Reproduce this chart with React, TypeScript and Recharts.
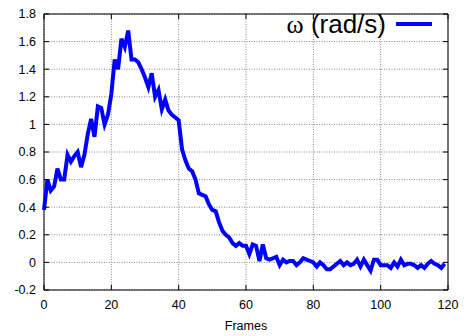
import React from 'react';
import { LineChart, Line, XAxis, YAxis, CartesianGrid, Legend, ReferenceArea } from 'recharts';

// angular velocity per frame
const omega = [
  0.38, 0.6, 0.52, 0.55, 0.68, 0.6, 0.6, 0.78, 0.73, 0.77,
  0.8, 0.69, 0.78, 0.93, 1.04, 0.91, 1.13, 1.12, 1.0, 1.07,
  1.22, 1.47, 1.4, 1.62, 1.56, 1.68, 1.47, 1.47, 1.45, 1.4,
  1.34, 1.27, 1.37, 1.2, 1.25, 1.11, 1.18, 1.1, 1.07, 1.05,
  1.03, 0.82, 0.74, 0.68, 0.66, 0.6, 0.5, 0.49, 0.48, 0.42,
  0.38, 0.37, 0.29, 0.23, 0.2, 0.18, 0.14, 0.12, 0.14, 0.12,
  0.12, 0.06, 0.13, 0.12, 0.01, 0.13, 0.03, 0.02, 0.03, 0.04,
  -0.02, 0.02, 0.0, 0.01, 0.01, -0.02, 0.0, 0.03, 0.02, 0.01,
  0.0, -0.03, 0.0, -0.02, -0.05, -0.05, -0.03, -0.01, 0.01, -0.02,
  0.0, -0.02, -0.01, 0.02, -0.03, 0.02, -0.02, -0.06, 0.02, 0.02,
  -0.02, -0.02, -0.02, -0.04, 0.0, -0.03, 0.02, -0.02, -0.01, -0.01,
  -0.02, -0.04, -0.02, -0.04, -0.01, 0.01, -0.01, -0.02, -0.04, -0.01,
];

const xTicks = [0, 20, 40, 60, 80, 100, 120];
const yTicks = [-0.2, 0, 0.2, 0.4, 0.6, 0.8, 1, 1.2, 1.4, 1.6, 1.8];

const data = omega.map((v, i) => ({ frame: i, omega: v }));

const W = 464;
const H = 336;
const M = { top: 14, right: 16, bottom: 0, left: 0 };
const Y_AXIS_W = 44;
const X_AXIS_H = 46;
const PLOT_TOP = M.top;
const PLOT_BOTTOM = H - X_AXIS_H;
const PLOT_LEFT = Y_AXIS_W;
const PLOT_RIGHT = W - M.right;
const TICK_LEN = 5;
const FONT = '"Liberation Sans", Arial, sans-serif';

const XTick = (props: any) => {
  const { x, y, payload } = props;
  return (
    <g>
      <line x1={x} y1={PLOT_BOTTOM} x2={x} y2={PLOT_BOTTOM - TICK_LEN} stroke="#000" />
      <line x1={x} y1={PLOT_TOP} x2={x} y2={PLOT_TOP + TICK_LEN} stroke="#000" />
      <text x={x} y={y} dy="0.71em" textAnchor="middle" fontFamily={FONT} fontSize={12.5} fill="#000">
        {payload.value}
      </text>
    </g>
  );
};

const YTick = (props: any) => {
  const { x, y, payload } = props;
  const label = String(Number(Number(payload.value).toFixed(1)));
  return (
    <g>
      <line x1={PLOT_LEFT} y1={y} x2={PLOT_LEFT + TICK_LEN} y2={y} stroke="#000" />
      <line x1={PLOT_RIGHT} y1={y} x2={PLOT_RIGHT - TICK_LEN} y2={y} stroke="#000" />
      <text x={x} y={y} dy="0.35em" textAnchor="end" fontFamily={FONT} fontSize={12.5} fill="#000">
        {label}
      </text>
    </g>
  );
};

const KeyBox = () => (
  <div style={{ display: 'flex', justifyContent: 'flex-end', alignItems: 'center', height: 30 }}>
    <span style={{ fontFamily: FONT, fontSize: 26, color: '#000', lineHeight: '30px' }}>
      <span style={{ fontFamily: '"Liberation Serif", serif' }}>ω</span> (rad/s)
    </span>
    <svg width={46} height={30} style={{ display: 'block' }}>
      <line x1={10} y1={15} x2={46} y2={15} stroke="#0000ff" strokeWidth={4} />
    </svg>
  </div>
);

export default function App() {
  return (
    <div style={{ position: 'absolute', left: 0, top: 0, width: W, height: H, background: '#fff' }}>
      <LineChart width={W} height={H} data={data} margin={M}>
        <CartesianGrid stroke="#888" strokeDasharray="1 1.5" />
        <XAxis
          dataKey="frame"
          type="number"
          domain={[0, 120]}
          ticks={xTicks}
          height={X_AXIS_H}
          axisLine={false}
          tickLine={false}
          tickSize={0}
          tickMargin={10}
          tick={<XTick />}
          interval={0}
          label={{ value: 'Frames', position: 'insideBottom', offset: 6, fontFamily: FONT, fontSize: 12.5, fill: '#000' }}
        />
        <YAxis
          type="number"
          domain={[-0.2, 1.8]}
          ticks={yTicks}
          width={Y_AXIS_W}
          axisLine={false}
          tickLine={false}
          tickSize={0}
          tickMargin={8}
          tick={<YTick />}
          interval={0}
          allowDataOverflow
        />
        <ReferenceArea x1={0} x2={120} y1={-0.2} y2={1.8} fill="none" stroke="#000" strokeWidth={1} ifOverflow="visible" />
        <Legend
          layout="horizontal"
          verticalAlign="middle"
          align="center"
          content={<KeyBox />}
          wrapperStyle={{ left: 232, top: 9, width: 200, height: 30 }}
        />
        <Line
          type="linear"
          dataKey="omega"
          name="ω (rad/s)"
          stroke="#0000ff"
          strokeWidth={4}
          dot={false}
          isAnimationActive={false}
        />
      </LineChart>
    </div>
  );
}
